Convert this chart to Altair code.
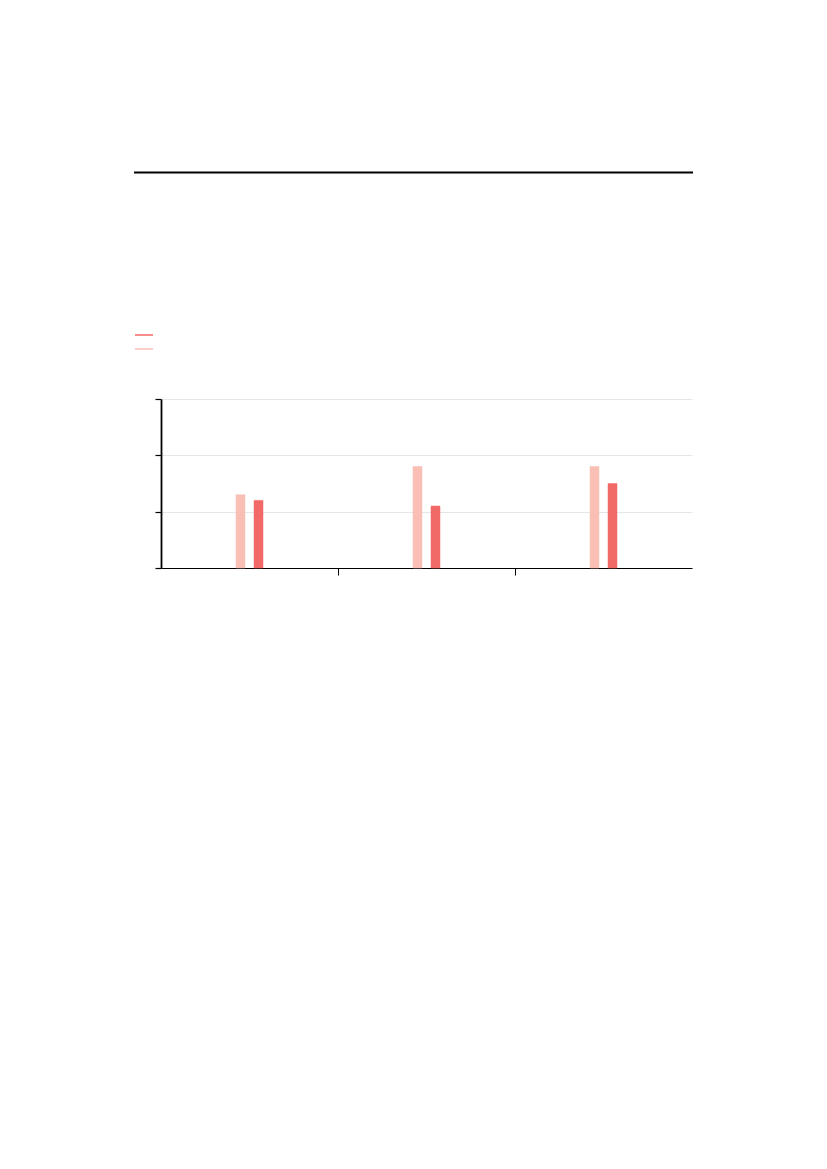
import altair as alt
import pandas as pd

categories = ["A", "B", "C"]
series_names = ["Series 1", "Series 2"]
light_values = [1.30, 1.80, 1.80]
dark_values = [1.20, 1.10, 1.50]
series_colors = ["#f26a67", "#f9bfb5"]  # dark, light
y_ticks = [0, 1, 2, 3]
x_ticks = [1, 2]

rows = []
for i, c in enumerate(categories):
    rows.append({"category": c, "pos": i + 0.5, "series": series_names[1], "value": light_values[i]})
    rows.append({"category": c, "pos": i + 0.5, "series": series_names[0], "value": dark_values[i]})
df = pd.DataFrame(rows)

xs = alt.X("pos:Q", scale=alt.Scale(domain=[0, 3], nice=False, zero=False, padding=0),
           axis=alt.Axis(values=x_ticks, labels=False, title=None, grid=False,
                         tickSize=7, tickColor="black", domainColor="black", domainWidth=1.2))
ys = alt.Y("value:Q", scale=alt.Scale(domain=[0, 3], nice=False),
           axis=alt.Axis(values=y_ticks, labels=False, title=None, grid=True, gridColor="#e6e6e6",
                         tickSize=6, tickColor="black", tickWidth=1.2,
                         domainColor="black", domainWidth=1.8))

leg = alt.Legend(orient="none", legendX=-27, legendY=-70.5, title=None,
                 symbolType="stroke", symbolSize=324, symbolStrokeWidth=1.5,
                 labelExpr="''", clipHeight=13, rowPadding=1, padding=0,
                 symbolOpacity=1)
color_scale = alt.Scale(domain=series_names, range=series_colors)
fill_enc = alt.Fill("series:N", scale=color_scale, legend=leg)
stroke_enc = alt.Stroke("series:N", scale=color_scale, legend=leg)

base = alt.Chart(df)
light = base.transform_filter(alt.datum.series == series_names[1]).mark_bar(
    width=9, xOffset=-9, strokeWidth=1, strokeOpacity=0.5).encode(x=xs, y=ys, fill=fill_enc, stroke=stroke_enc)
dark = base.transform_filter(alt.datum.series == series_names[0]).mark_bar(
    width=9, xOffset=9, strokeWidth=1, strokeOpacity=0.5).encode(x=xs, y=ys, fill=fill_enc, stroke=stroke_enc)

top_rule = alt.Chart(pd.DataFrame({"k": [0]})).mark_rule(color="black", strokeWidth=2).encode(
    x=alt.value(-27), x2=alt.value(532), y=alt.value(-226.5))

chart = alt.layer(light, dark, top_rule).properties(
    width=531, height=169,
    autosize=alt.AutoSizeParams(type="none"),
    padding={"left": 153, "top": 391, "right": 20, "bottom": 20},
).configure_view(stroke=None)

chart.save("out.html", embed_options={"renderer": "svg", "actions": False})
